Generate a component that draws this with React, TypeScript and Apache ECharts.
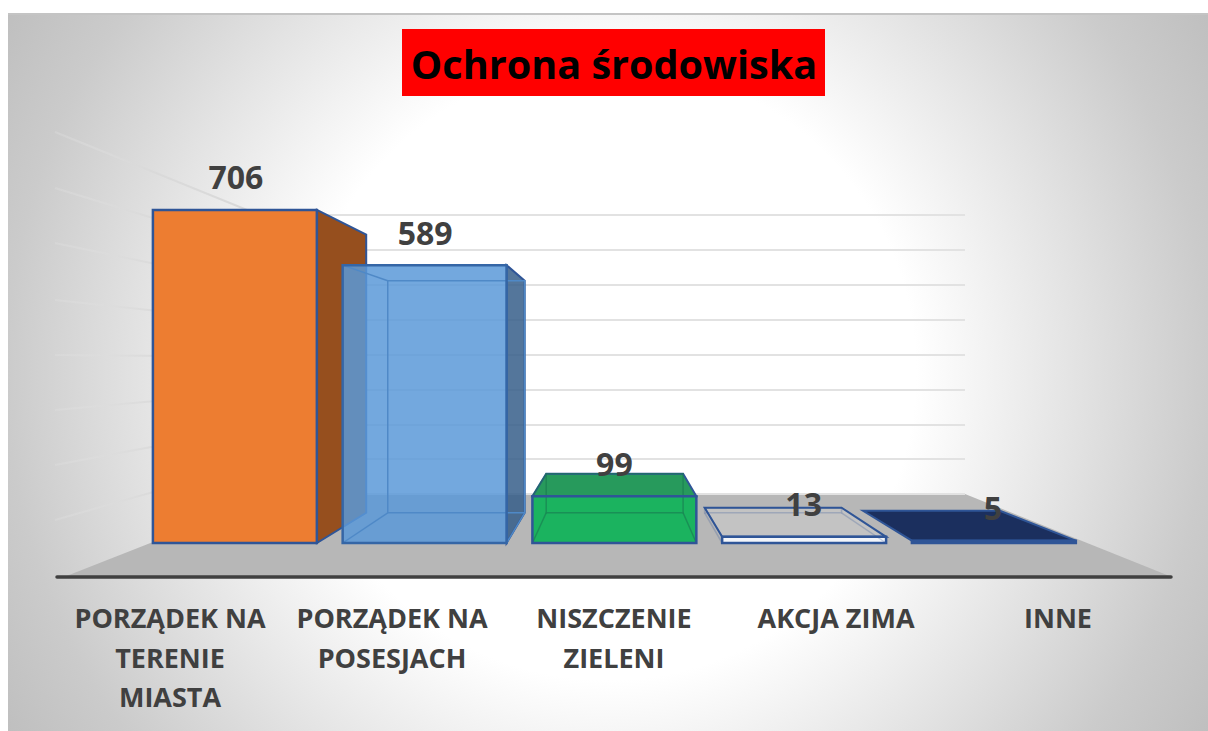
import React, { useEffect, useRef } from "react";
import * as echarts from "echarts";

const TITLE = "Ochrona środowiska";
const CATEGORIES = ["PORZĄDEK NA\nTERENIE\nMIASTA", "PORZĄDEK NA\nPOSESJACH", "NISZCZENIE\nZIELENI", "AKCJA ZIMA", "INNE"];
const VALUES = [706, 589, 99, 13, 5];
const WALL_TICKS_MAX = 800;
const WALL_TICK_STEP = 100;

const EDGE = "#2f5597";
const TEXT = "#404040";
const FONT = "'Open Sans', sans-serif";
const VANISH = [616, 360];
const DEPTH = 0.165;

const SKINS: any[] = [
  { front: "#ed7d31", right: "#964f1e", rightEdge: EDGE },
  { front: "rgba(91,153,216,0.85)", right: "rgba(54,94,138,0.85)", rightEdge: EDGE, inner: "#4f89c7", innerW: 1.5, frontEdge: "#3566a6" },
  { front: "#1bb35f", top: "#279a5c", topEdge: EDGE, inner: "rgba(25,120,80,0.6)", innerW: 1.5 },
  { front: "#f2f5fa", top: "rgba(205,205,205,0.55)", topEdge: EDGE, inner: "rgba(47,85,151,0.25)", innerW: 1.5 },
  { front: "#1b2f5e", top: "#1b2f5e", topEdge: EDGE },
];

const renderBar = (params: any, api: any) => {
  const i = params.dataIndex;
  const skin = SKINS[i];
  const value = api.value(1);
  const t = api.coord([api.value(0), value]);
  const b = api.coord([api.value(0), 0]);
  const w = api.size([1, 0])[0] * 0.864;
  const x0 = b[0] - w / 2;
  const x1 = b[0] + w / 2;
  const y0 = t[1];
  const y1 = b[1];
  const back = (p: number[]) => [p[0] + DEPTH * (VANISH[0] - p[0]), p[1] + DEPTH * (VANISH[1] - p[1])];
  const fl0 = [x0, y0], fr0 = [x1, y0], fl1 = [x0, y1], fr1 = [x1, y1];
  const bl0 = back(fl0), br0 = back(fr0), bl1 = back(fl1), br1 = back(fr1);
  const poly = (points: number[][], fill: string, stroke: string, lineWidth: number) => ({
    type: "polygon",
    shape: { points },
    style: { fill, stroke, lineWidth, lineJoin: "miter" },
  });
  const seg = (a: number[], c: number[], stroke: string, lineWidth: number) => ({
    type: "line",
    shape: { x1: a[0], y1: a[1], x2: c[0], y2: c[1] },
    style: { stroke, lineWidth },
  });
  const children: any[] = [];
  if (skin.top) children.push(poly([fl0, fr0, br0, bl0], skin.top, skin.topEdge, 2));
  if (skin.right) children.push(poly([fr0, br0, br1, fr1], skin.right, skin.rightEdge, 2));
  children.push(poly([fl0, fr0, fr1, fl1], skin.front, "none", 0));
  if (skin.inner) {
    const s = skin.inner, l = skin.innerW;
    children.push(poly([bl0, br0, br1, bl1], "none", s, l));
    children.push(seg(fl1, bl1, s, l), seg(fr1, br1, s, l), seg(fl0, bl0, s, l));
  }
  children.push(poly([fl0, fr0, fr1, fl1], "none", skin.frontEdge || EDGE, 2.5));
  children.push({
    type: "text",
    x: b[0] + 1 - i * 0.5,
    y: y0 - 33,
    style: {
      text: String(VALUES[i]),
      fill: TEXT,
      font: `bold 32px ${FONT}`,
      align: "center",
      verticalAlign: "middle",
    },
  });
  return { type: "group", children };
};

const wallLineStarts = [132, 188, 243, 300, 355, 410, 465, 520];

function buildOption(): any {
  const wallLines = wallLineStarts.map((y) => ({
    type: "line",
    z: -1,
    silent: true,
    shape: { x1: 55, y1: y, x2: 260, y2: y + ((260 - 55) * (VANISH[1] - y)) / (VANISH[0] - 55) },
    style: {
      lineWidth: 2,
      stroke: new echarts.graphic.LinearGradient(
        55, 0, 260, 0,
        [
          { offset: 0, color: "rgba(225,225,225,0.3)" },
          { offset: 0.5, color: "rgba(216,216,216,0.8)" },
          { offset: 1, color: "#d8d8d8" },
        ],
        true
      ),
    },
  }));
  return {
    animation: false,
    title: {
      text: TITLE,
      left: 614,
      top: 37,
      textAlign: "center",
      textStyle: { color: "#000000", fontFamily: FONT, fontWeight: "bold", fontSize: 39.6, lineHeight: 54 },
      padding: 0,
      z: 6,
    },
    graphic: [
      {
        type: "rect",
        z: -2,
        silent: true,
        shape: { x: 8, y: 13, width: 1200, height: 718 },
        style: {
          fill: new echarts.graphic.RadialGradient(
            608, 372, 700,
            [
              { offset: 0, color: "#ffffff" },
              { offset: 0.44, color: "#ffffff" },
              { offset: 0.66, color: "#e4e4e4" },
              { offset: 0.86, color: "#cbcbcb" },
              { offset: 1, color: "#bfbfbf" },
            ],
            true
          ),
        },
      },
      {
        type: "line",
        z: -2,
        silent: true,
        shape: { x1: 8, y1: 14, x2: 1208, y2: 14 },
        style: { stroke: "#c4c4c4", lineWidth: 2 },
      },
      {
        type: "rect",
        z: 5,
        silent: true,
        shape: { x: 402, y: 29, width: 423, height: 67 },
        style: { fill: "#ff0000" },
      },
      ...wallLines,
      {
        type: "polygon",
        z: -1,
        silent: true,
        shape: { points: [[64, 577], [275, 494], [965, 494], [1172, 577]] },
        style: { fill: "#b7b7b7" },
      },
      {
        type: "line",
        z: 1,
        silent: true,
        shape: { x1: 57, y1: 577, x2: 1171, y2: 577 },
        style: { stroke: TEXT, lineWidth: 3.5, lineCap: "round" },
      },
    ],
    grid: [
      { left: 140, top: 165.6, width: 948.75, height: 377.4 },
      { left: 275, top: 215, width: 690, height: 279 },
      { left: 59, top: 200, width: 1110, height: 377 },
    ],
    xAxis: [
      { type: "category", gridIndex: 0, data: CATEGORIES, show: false },
      { type: "category", gridIndex: 1, data: CATEGORIES, show: false },
      {
        type: "category",
        gridIndex: 2,
        data: CATEGORIES,
        axisTick: { show: false },
        axisLine: { show: false },
        axisLabel: {
          interval: 0,
          margin: 21,
          color: TEXT,
          fontFamily: FONT,
          fontWeight: "bold",
          fontSize: 27,
          lineHeight: 39.5,
        },
      },
    ],
    yAxis: [
      { type: "value", gridIndex: 0, min: 0, max: WALL_TICKS_MAX, show: false, splitLine: { show: false } },
      {
        type: "value",
        gridIndex: 1,
        min: 0,
        max: WALL_TICKS_MAX,
        interval: WALL_TICK_STEP,
        axisLine: { show: false },
        axisTick: { show: false },
        axisLabel: { show: false },
        splitLine: { show: true, lineStyle: { color: "#e2e2e2", width: 2 } },
      },
      { type: "value", gridIndex: 2, show: false, min: 0, max: 1, splitLine: { show: false } },
    ],
    series: [
      {
        type: "custom",
        xAxisIndex: 0,
        yAxisIndex: 0,
        z: 3,
        renderItem: renderBar,
        data: VALUES.map((v, i) => [i, v]),
      },
    ],
  };
}

export default function App() {
  const ref = useRef<HTMLDivElement>(null);
  useEffect(() => {
    const chart = echarts.init(ref.current!, undefined, { renderer: "svg" });
    chart.setOption(buildOption());
    return () => chart.dispose();
  }, []);
  return <div ref={ref} style={{ position: "fixed", left: 0, top: 0, width: 1208, height: 731, background: "#ffffff" }} />;
}
